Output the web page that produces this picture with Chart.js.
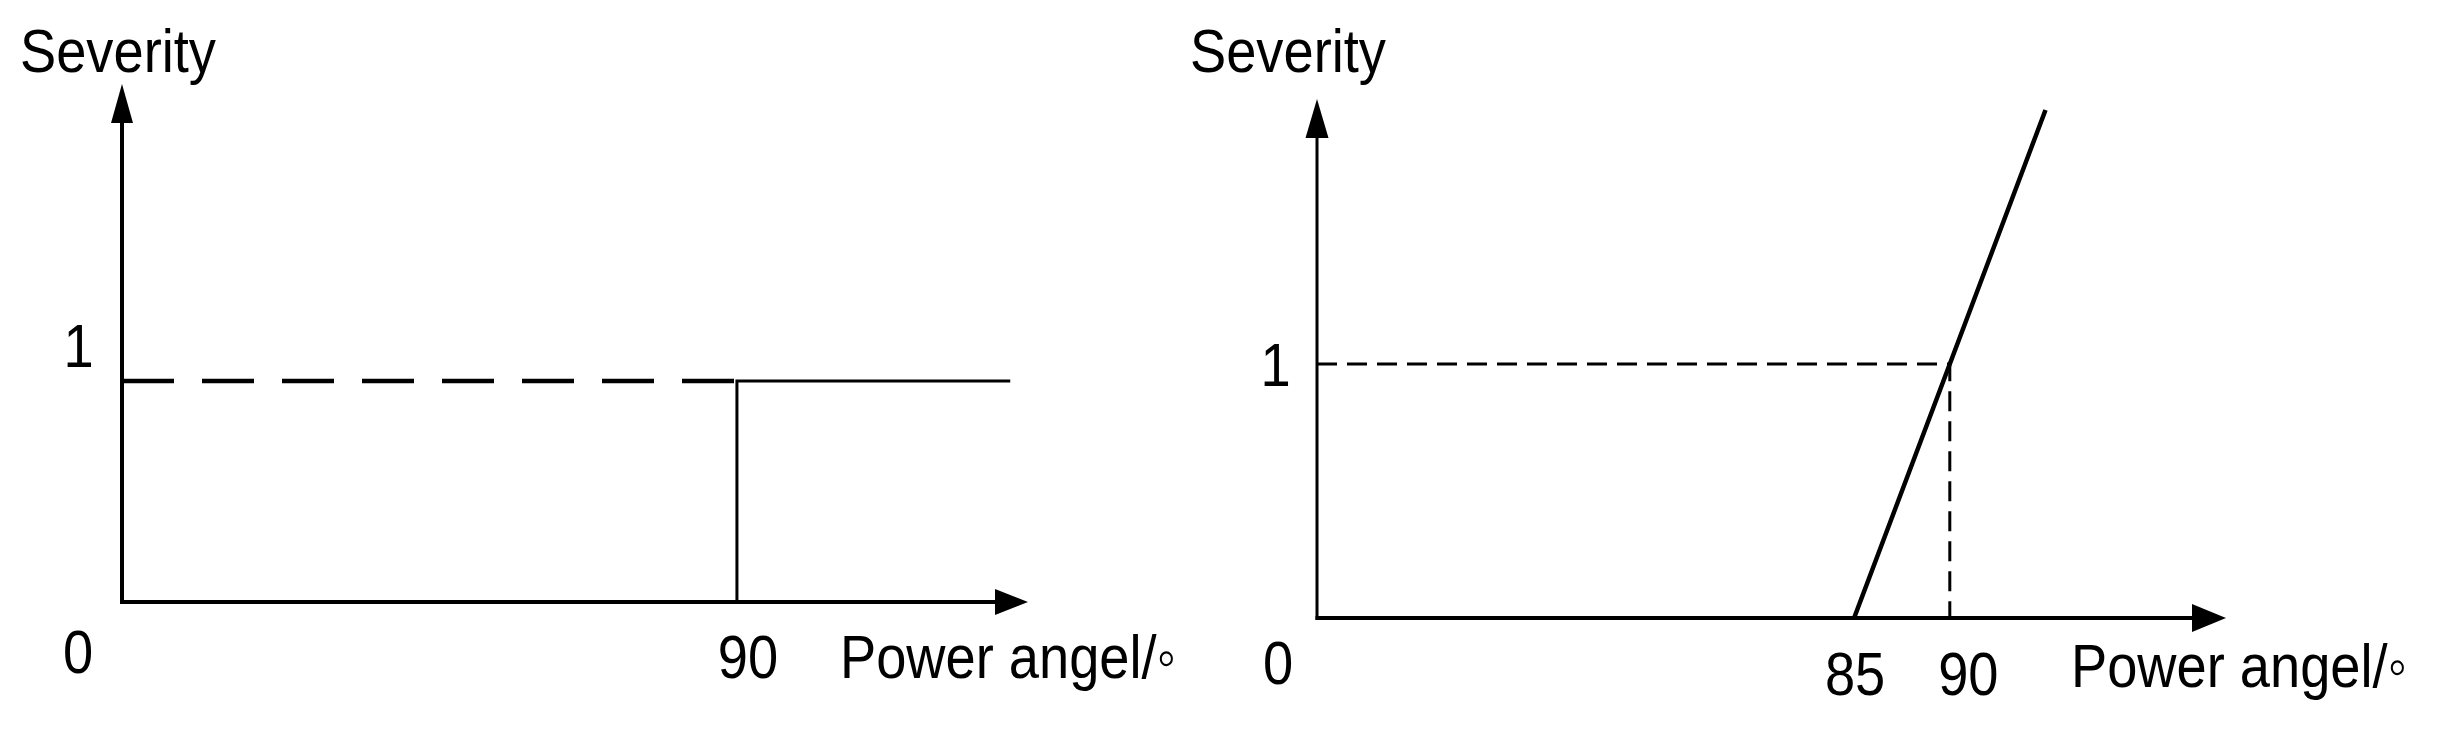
<!DOCTYPE html>
<html>
<head>
    <script src="https://cdn.jsdelivr.net/npm/chart.js@4.4.1/dist/chart.umd.min.js"></script>
    <style>
        body { margin: 0; background: #fff; }
        canvas { position: absolute; top: 0; }
        #left { left: 0; }
        #right { left: 1187px; }
    </style>
</head>
<body>
    <canvas id="left" width="1187" height="734"></canvas>
    <canvas id="right" width="1253" height="734"></canvas>

    <script>
        // left: severity steps to 1 at 90 degrees
        let leftDashX = [0, 90];
        let leftDashY = [1, 1];
        let leftStepX = [90, 90, 130];
        let leftStepY = [0, 1, 1];
        let leftXRange = [0, 132.6];
        let leftYRange = [0, 2.344];
        let leftXTicks = [90];
        let leftXTickLabels = ['90'];
        let leftYTicks = [1];
        let leftYTickLabels = ['1'];

        // right: ramp from 85 to 95 degrees, the x axis is broken before 85
        let rightDashX = [56.94, 90, 90];
        let rightDashY = [1, 1, 0];
        let rightRampX = [85, 90, 95];
        let rightRampY = [0, 1, 2];
        let rightXRange = [56.94, 104.43];
        let rightYRange = [0, 2.043];
        let rightXTicks = [85, 90];
        let rightXTickLabels = ['85', '90'];
        let rightYTicks = [1];
        let rightYTickLabels = ['1'];

        let yTitle = 'Severity';
        let xTitle = 'Power angel/◦';
        let originLabel = '0';

        function punti(xs, ys) {
            return xs.map((x, i) => ({x: x, y: ys[i]}));
        }

        // narrow text: the font is squeezed sideways
        function testo(ctx, s, x, y, align, squeeze) {
            ctx.save();
            ctx.translate(x, y);
            ctx.scale(squeeze, 1);
            ctx.textAlign = align;
            ctx.fillText(s, 0, 0);
            ctx.restore();
        }

        // axes with arrow heads and all the texts
        let schizzo = {
            id: 'schizzo',
            afterDatasetsDraw(chart, args, o) {
                let ctx = chart.ctx;
                let a = chart.chartArea;
                let sx = chart.scales.x;
                let sy = chart.scales.y;
                ctx.save();
                ctx.fillStyle = '#000';
                ctx.strokeStyle = '#000';
                ctx.lineCap = 'butt';

                ctx.lineWidth = o.yAxisWidth;
                ctx.beginPath();
                ctx.moveTo(a.left, a.bottom + o.xAxisWidth / 2);
                ctx.lineTo(a.left, a.top + o.yArrow[0]);
                ctx.stroke();
                ctx.beginPath();
                ctx.moveTo(a.left, a.top);
                ctx.lineTo(a.left - o.yArrow[1], a.top + o.yArrow[0]);
                ctx.lineTo(a.left + o.yArrow[1], a.top + o.yArrow[0]);
                ctx.closePath();
                ctx.fill();

                ctx.lineWidth = o.xAxisWidth;
                ctx.beginPath();
                ctx.moveTo(a.left - o.yAxisWidth / 2, a.bottom);
                ctx.lineTo(a.right - o.xArrow[0], a.bottom);
                ctx.stroke();
                ctx.beginPath();
                ctx.moveTo(a.right, a.bottom);
                ctx.lineTo(a.right - o.xArrow[0], a.bottom - o.xArrow[1]);
                ctx.lineTo(a.right - o.xArrow[0], a.bottom + o.xArrow[1]);
                ctx.closePath();
                ctx.fill();

                ctx.font = o.font;
                ctx.textBaseline = 'alphabetic';
                let k = o.squeeze;

                testo(ctx, yTitle, a.left + o.yTitle[0], a.top + o.yTitle[1], 'left', k);
                testo(ctx, xTitle, a.right + o.xTitle[0], a.bottom + o.xTitle[1], 'left', k);
                testo(ctx, originLabel, a.left + o.origin[0], a.bottom + o.origin[1], 'center', k);
                o.xTicks.forEach((v, i) => {
                    testo(ctx, o.xTickLabels[i], sx.getPixelForValue(v) + o.xTickOffsets[i], a.bottom + o.xTickDy, 'center', k);
                });
                o.yTicks.forEach((v, i) => {
                    testo(ctx, o.yTickLabels[i], a.left + o.yTickDx, sy.getPixelForValue(v) + o.yTickDy, 'center', k);
                });
                ctx.restore();
            }
        };

        function creaGrafico(id, datasets, xRange, yRange, padding, opzioni) {
            let ctx = document.getElementById(id).getContext('2d');
            return new Chart(ctx, {
                type: 'line',
                data: {datasets: datasets},
                options: {
                    responsive: false,
                    animation: false,
                    devicePixelRatio: 1,
                    layout: {padding: padding},
                    scales: {
                        x: {type: 'linear', min: xRange[0], max: xRange[1], display: false},
                        y: {type: 'linear', min: yRange[0], max: yRange[1], display: false}
                    },
                    plugins: {
                        legend: {display: false},
                        tooltip: {enabled: false},
                        schizzo: opzioni
                    }
                },
                plugins: [schizzo]
            });
        }

        let font = '62px "Liberation Sans", Arial, sans-serif';

        creaGrafico('left', [
            {data: punti(leftDashX, leftDashY), borderColor: '#000', borderWidth: 4.5, borderDash: [52, 28],
                pointRadius: 0, tension: 0, clip: false},
            {data: punti(leftStepX, leftStepY), borderColor: '#000', borderWidth: 3,
                pointRadius: 0, tension: 0, clip: false}
        ], leftXRange, leftYRange, {left: 122, right: 159, top: 84, bottom: 132}, {
            font: font, squeeze: 0.875,
            yAxisWidth: 4, xAxisWidth: 4, yArrow: [39, 11], xArrow: [33, 13],
            yTitle: [-102, -12], xTitle: [-188, 76], origin: [-44, 71],
            xTicks: leftXTicks, xTickLabels: leftXTickLabels, xTickOffsets: [11], xTickDy: 76,
            yTicks: leftYTicks, yTickLabels: leftYTickLabels, yTickDx: -43.5, yTickDy: -14
        });

        creaGrafico('right', [
            {data: punti(rightDashX, rightDashY), borderColor: '#000', borderWidth: 3, borderDash: [20, 10],
                pointRadius: 0, tension: 0, clip: false},
            {data: punti(rightRampX, rightRampY), borderColor: '#000', borderWidth: 4.5,
                pointRadius: 0, tension: 0, clip: false}
        ], rightXRange, rightYRange, {left: 130, right: 214, top: 99, bottom: 116}, {
            font: font, squeeze: 0.875,
            yAxisWidth: 3, xAxisWidth: 4, yArrow: [39, 11.5], xArrow: [34, 14],
            yTitle: [-127, -27], xTitle: [-155, 69], origin: [-39, 66],
            xTicks: rightXTicks, xTickLabels: rightXTickLabels, xTickOffsets: [1, 18.5], xTickDy: 77,
            yTicks: rightYTicks, yTickLabels: rightYTickLabels, yTickDx: -41.5, yTickDy: 22
        });
    </script>
</body>
</html>
